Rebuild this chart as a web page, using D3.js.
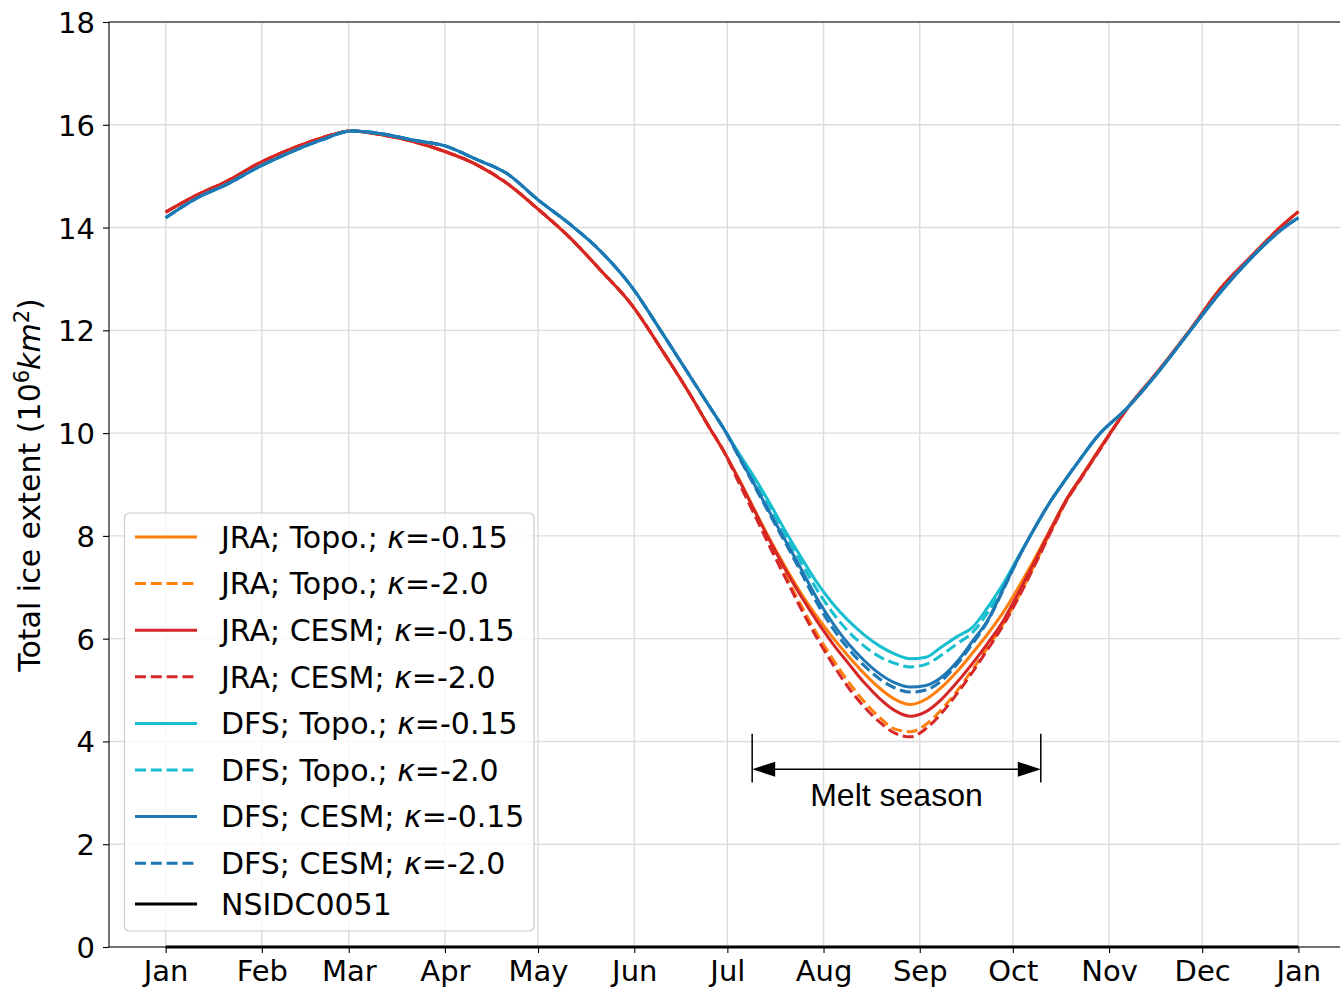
<!DOCTYPE html>
<html>
<head>
<meta charset="utf-8">
<script src="https://cdn.jsdelivr.net/npm/d3@7"></script>
<style>
  body { margin: 0; background: #fff; }
  svg { display: block; }
</style>
</head>
<body>
<svg id="chart" width="1340" height="987"></svg>
<script>
// Day of year for each sample
const days = [0,10,20,30,40,50,60,70,80,90,100,110,120,130,140,150,160,170,175,180,
  185,190,195,200,205,210,215,220,225,230,235,240,245,250,255,260,265,270,275,280,285,290,295,300,
  310,320,330,340,350,360,365];

// Growth / early melt (days 0-180), shared by the runs of each forcing
const jraSpring = [14.30,14.63,14.91,15.25,15.52,15.74,15.88,15.80,15.67,15.48,15.23,14.86,14.36,13.82,13.18,12.51,11.61,10.65,10.13,9.63];
const dfsSpring = [14.19,14.57,14.85,15.18,15.46,15.70,15.88,15.82,15.70,15.59,15.33,15.05,14.54,14.08,13.55,12.86,11.95,11.01,10.54,10.07];

// Melt season and refreeze (days 185-300), one per run
const jraTopoK015  = [9.08,8.48,7.90,7.36,6.86,6.42,6.02,5.66,5.33,5.04,4.82,4.72,4.82,5.05,5.36,5.72,6.10,6.52,7.02,7.55,8.12,8.68,9.15,9.61];
const jraTopoK20   = [9.02,8.40,7.79,7.20,6.62,6.08,5.60,5.16,4.78,4.47,4.24,4.19,4.33,4.62,4.98,5.40,5.84,6.30,6.84,7.44,8.06,8.66,9.13,9.59];
const jraCesmK015  = [9.06,8.46,7.87,7.31,6.80,6.33,5.90,5.52,5.15,4.84,4.60,4.49,4.58,4.82,5.15,5.52,5.92,6.36,6.92,7.50,8.10,8.68,9.14,9.60];
const jraCesmK20   = [9.00,8.38,7.75,7.15,6.55,6.00,5.50,5.05,4.68,4.38,4.16,4.09,4.25,4.55,4.93,5.35,5.80,6.27,6.82,7.42,8.05,8.65,9.12,9.58];
const dfsTopoK015  = [9.58,9.11,8.60,8.06,7.56,7.08,6.68,6.35,6.08,5.86,5.70,5.61,5.64,5.84,6.04,6.22,6.62,7.08,7.62,8.15,8.66,9.10,9.52,9.92];
const dfsTopoK20   = [9.56,9.06,8.54,7.99,7.46,6.94,6.50,6.14,5.86,5.65,5.52,5.45,5.50,5.68,5.90,6.12,6.52,7.02,7.60,8.15,8.66,9.10,9.52,9.92];
const dfsCesmK015  = [9.52,8.97,8.42,7.88,7.33,6.77,6.30,5.90,5.58,5.32,5.14,5.06,5.09,5.25,5.55,5.95,6.37,6.98,7.60,8.15,8.66,9.10,9.52,9.92];
const dfsCesmK20   = [9.50,8.94,8.38,7.83,7.26,6.68,6.20,5.80,5.48,5.22,5.04,4.96,5.00,5.18,5.50,5.90,6.35,6.96,7.59,8.15,8.66,9.10,9.52,9.92];

// Late autumn (days 310-365)
const jraAutumn = [10.49,11.22,12.00,12.82,13.45,14.05,14.31];
const dfsAutumn = [10.50,11.20,11.98,12.75,13.42,13.98,14.19];

// Observational record as plotted (flat at zero)
const nsidcDays = [0, 365];
const nsidcValues = [0, 0];

const seriesNames = [
  ["JRA; Topo.; ", "κ", "=-0.15"],
  ["JRA; Topo.; ", "κ", "=-2.0"],
  ["JRA; CESM; ", "κ", "=-0.15"],
  ["JRA; CESM; ", "κ", "=-2.0"],
  ["DFS; Topo.; ", "κ", "=-0.15"],
  ["DFS; Topo.; ", "κ", "=-2.0"],
  ["DFS; CESM; ", "κ", "=-0.15"],
  ["DFS; CESM; ", "κ", "=-2.0"],
  ["NSIDC0051", "", ""]
];
const seriesColors = ["#ff7f0e","#ff7f0e","#d62728","#d62728","#17becf","#17becf","#1f77b4","#1f77b4","#000000"];
const seriesDashed = [false,true,false,true,false,true,false,true,false];

const monthDays = [0,31,59,90,120,151,181,212,243,273,304,334,365];
const monthLabels = ["Jan","Feb","Mar","Apr","May","Jun","Jul","Aug","Sep","Oct","Nov","Dec","Jan"];
const yTicks = [0,2,4,6,8,10,12,14,16,18];

// Melt-season bracket (days) and its vertical placement (extent units)
const meltStart = 189, meltEnd = 282;
const meltBarLow = 3.2, meltBarHigh = 4.15, meltArrowY = 3.46, meltTextY = 2.75;

const modelValues = [
  jraSpring.concat(jraTopoK015, jraAutumn),
  jraSpring.concat(jraTopoK20, jraAutumn),
  jraSpring.concat(jraCesmK015, jraAutumn),
  jraSpring.concat(jraCesmK20, jraAutumn),
  dfsSpring.concat(dfsTopoK015, dfsAutumn),
  dfsSpring.concat(dfsTopoK20, dfsAutumn),
  dfsSpring.concat(dfsCesmK015, dfsAutumn),
  dfsSpring.concat(dfsCesmK20, dfsAutumn)
];

const svg = d3.select("#chart");
const plotL = 109, plotR = 1355, plotT = 22, plotB = 947;
const FS = 29, LEG_FS = 30, DEJAVU = "'DejaVu Sans', sans-serif";

const x = d3.scaleLinear().domain([-18.25, 383.25]).range([plotL, plotR]);
const y = d3.scaleLinear().domain([0, 18]).range([plotB, plotT]);

svg.append("rect").attr("width", 1340).attr("height", 987).attr("fill", "#fff");

// grid
const grid = svg.append("g");
grid.selectAll(".gx").data(monthDays).join("line")
  .attr("x1", d => x(d)).attr("x2", d => x(d))
  .attr("y1", plotT).attr("y2", plotB)
  .attr("stroke", "#dcdcdc").attr("stroke-width", 1.4);
grid.selectAll(".gy").data(yTicks).join("line")
  .attr("x1", plotL).attr("x2", plotR)
  .attr("y1", d => y(d)).attr("y2", d => y(d))
  .attr("stroke", "#dcdcdc").attr("stroke-width", 1.4);

// data lines
const line = d3.line().x(d => x(d[0])).y(d => y(d[1])).curve(d3.curveMonotoneX);
const lines = svg.append("g").attr("fill", "none").attr("stroke-width", 3).attr("stroke-linejoin", "round");
modelValues.forEach((vals, i) => {
  lines.append("path")
    .attr("d", line(days.map((d, j) => [d, vals[j]])))
    .attr("stroke", seriesColors[i])
    .attr("stroke-dasharray", seriesDashed[i] ? "11,4.8" : null);
});
lines.append("path")
  .attr("d", line(nsidcDays.map((d, j) => [d, nsidcValues[j]])))
  .attr("stroke", seriesColors[8]);

// spines
const spines = svg.append("g").attr("stroke", "#000").attr("stroke-width", 1.1);
spines.append("line").attr("x1", plotL).attr("x2", plotL).attr("y1", plotT).attr("y2", plotB);
spines.append("line").attr("x1", plotL).attr("x2", plotR).attr("y1", plotT).attr("y2", plotT);
spines.append("line").attr("x1", plotL).attr("x2", plotR).attr("y1", plotB).attr("y2", plotB);
spines.append("line").attr("x1", plotR).attr("x2", plotR).attr("y1", plotT).attr("y2", plotB);

// x axis
const xAxis = svg.append("g").attr("transform", `translate(0,${plotB})`)
  .call(d3.axisBottom(x).tickValues(monthDays).tickFormat((d, i) => monthLabels[i]).tickSize(6).tickSizeOuter(0));
xAxis.select(".domain").remove();
xAxis.selectAll(".tick line").attr("stroke", "#000").attr("stroke-width", 1.1);
xAxis.selectAll(".tick text").style("font-family", DEJAVU).attr("font-size", FS)
  .attr("y", 34).attr("dy", 0).attr("fill", "#000");

// y axis
const yAxis = svg.append("g").attr("transform", `translate(${plotL},0)`)
  .call(d3.axisLeft(y).tickValues(yTicks).tickFormat(d3.format("d")).tickSize(6).tickSizeOuter(0));
yAxis.select(".domain").remove();
yAxis.selectAll(".tick line").attr("stroke", "#000").attr("stroke-width", 1.1);
yAxis.selectAll(".tick text").style("font-family", DEJAVU).attr("font-size", FS)
  .attr("x", -14).attr("dy", "0.36em").attr("fill", "#000");

// y label
const yl = svg.append("text")
  .attr("transform", "translate(40,485) rotate(-90)")
  .attr("text-anchor", "middle").style("font-family", DEJAVU).attr("font-size", 30);
yl.append("tspan").text("Total ice extent (10");
yl.append("tspan").attr("font-size", 21).attr("dy", -11).text("6");
yl.append("tspan").attr("dy", 11).attr("font-style", "italic").text("km");
yl.append("tspan").attr("font-size", 21).attr("dy", -11).text("2");
yl.append("tspan").attr("dy", 11).text(")");

// melt season bracket
const melt = svg.append("g").attr("stroke", "#000").attr("stroke-width", 1.5);
[meltStart, meltEnd].forEach(d => {
  melt.append("line").attr("x1", x(d)).attr("x2", x(d)).attr("y1", y(meltBarHigh)).attr("y2", y(meltBarLow));
});
const ax0 = x(meltStart), ax1 = x(meltEnd), ay = y(meltArrowY);
melt.append("line").attr("x1", ax0 + 20).attr("x2", ax1 - 20).attr("y1", ay).attr("y2", ay);
svg.append("path").attr("fill", "#000")
  .attr("d", `M${ax0},${ay} L${ax0 + 23},${ay - 7.5} L${ax0 + 23},${ay + 7.5} Z`);
svg.append("path").attr("fill", "#000")
  .attr("d", `M${ax1},${ay} L${ax1 - 23},${ay - 7.5} L${ax1 - 23},${ay + 7.5} Z`);
svg.append("text").attr("x", (ax0 + ax1) / 2).attr("y", y(meltTextY))
  .attr("text-anchor", "middle").style("font-family", "'Liberation Sans', Arial, sans-serif")
  .attr("font-size", 32).attr("fill", "#000").text("Melt season");

// legend
const lg = svg.append("g");
lg.append("rect").attr("x", 124.5).attr("y", 513).attr("width", 409.5).attr("height", 418)
  .attr("rx", 5).attr("fill", "#fff").attr("fill-opacity", 0.8).attr("stroke", "#cccccc").attr("stroke-width", 1.2);
const rowY = i => i < 8 ? 537 + i * 46.6 : 904;
seriesNames.forEach((nm, i) => {
  const ry = rowY(i);
  lg.append("line").attr("x1", 135).attr("x2", 197).attr("y1", ry).attr("y2", ry)
    .attr("stroke", seriesColors[i]).attr("stroke-width", 3)
    .attr("stroke-dasharray", seriesDashed[i] ? "11,4.8" : null);
  const t = lg.append("text").attr("x", 221).attr("y", ry).attr("dy", "0.36em")
    .style("font-family", DEJAVU).attr("font-size", LEG_FS).attr("fill", "#000");
  t.append("tspan").text(nm[0]);
  if (nm[1]) t.append("tspan").attr("font-style", "italic").text(nm[1]);
  if (nm[2]) t.append("tspan").text(nm[2]);
});
</script>
</body>
</html>
